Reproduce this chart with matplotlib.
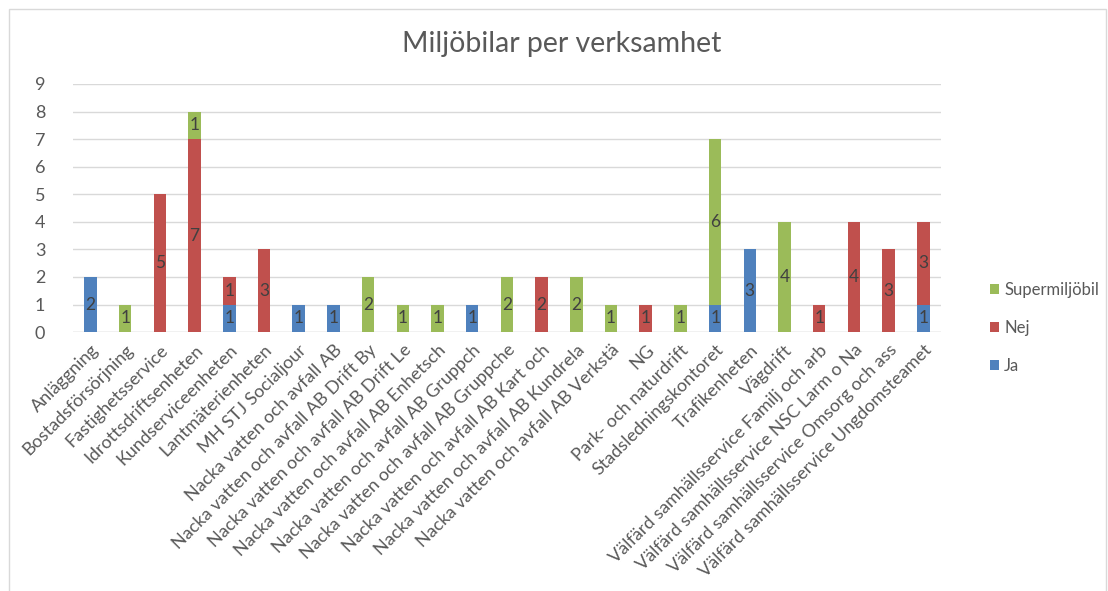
import numpy as np
import matplotlib
import matplotlib.pyplot as plt

plt.switch_backend('agg')
plt.rcParams['font.family'] = ['Lato', 'DejaVu Sans']

categories = [
    "Anläggning", "Bostadsförsörjning", "Fastighetsservice", "Idrottsdriftsenheten",
    "Kundserviceenheten", "Lantmäterienheten", "MH STJ Socialjour",
    "Nacka vatten och avfall AB", "Nacka vatten och avfall AB Drift By",
    "Nacka vatten och avfall AB Drift Le", "Nacka vatten och avfall AB Enhetsch",
    "Nacka vatten och avfall AB Gruppch", "Nacka vatten och avfall AB Gruppche",
    "Nacka vatten och avfall AB Kart och", "Nacka vatten och avfall AB Kundrela",
    "Nacka vatten och avfall AB Verkstä", "NG", "Park- och naturdrift",
    "Stadsledningskontoret", "Trafikenheten", "Vägdrift",
    "Välfärd samhällsservice Familj och arb", "Välfärd samhällsservice NSC Larm o Na",
    "Välfärd samhällsservice Omsorg och ass", "Välfärd samhällsservice Ungdomsteamet",
]
ja = [2, 0, 0, 0, 1, 0, 1, 1, 0, 0, 0, 1, 0, 0, 0, 0, 0, 0, 1, 3, 0, 0, 0, 0, 1]
nej = [0, 0, 5, 7, 1, 3, 0, 0, 0, 0, 0, 0, 0, 2, 0, 0, 1, 0, 0, 0, 0, 1, 4, 3, 3]
super_ = [0, 1, 0, 1, 0, 0, 0, 0, 2, 1, 1, 0, 2, 0, 2, 1, 0, 1, 6, 0, 4, 0, 0, 0, 0]

series = [("Ja", ja, "#4F81BD"), ("Nej", nej, "#C0504D"), ("Supermiljöbil", super_, "#9BBB59")]

fig = plt.figure(figsize=(11.08, 5.91), dpi=100)
# thin frame round the whole chart
fig.patches.append(matplotlib.patches.Rectangle((0.008, -0.01), 0.99, 0.995, transform=fig.transFigure,
                                                fill=False, edgecolor='#D9D9D9', lw=1))
ax = fig.add_axes([0.066, 0.438, 0.783, 0.42])

x = np.arange(len(categories))
bottom = np.zeros(len(categories))
handles = []
for name, vals, color in series:
    vals = np.array(vals, dtype=float)
    bars = ax.bar(x, vals, 0.36, bottom=bottom, color=color, label=name, zorder=3)
    for xi, v, b in zip(x, vals, bottom):
        if v > 0:
            ax.text(xi, b + v / 2, '%d' % v, ha='center', va='center', fontsize=12.5,
                    color='#404040', zorder=4)
    bottom += vals
    handles.append(bars)

ax.set_xlim(-0.5, len(categories) - 0.5)
ax.set_ylim(0, 9)
ax.set_yticks(range(10))
ax.yaxis.grid(True, color='#D9D9D9', lw=1, zorder=0)
for s in ax.spines.values():
    s.set_visible(False)
ax.axhline(0, color='#D9D9D9', lw=1, zorder=2)
ax.tick_params(axis='both', length=0, colors='#595959', labelsize=13)
ax.tick_params(axis='y', pad=20)
ax.tick_params(axis='x', pad=7)
ax.set_xticks(x)
ax.set_xticklabels(categories, rotation=45, ha='right', rotation_mode='anchor', fontsize=13)

fig.text(0.507, 0.926, "Miljöbilar per verksamhet", ha='center', va='center',
         fontsize=20.5, color='#595959')

leg = fig.legend(handles[::-1], [s[0] for s in series][::-1], loc='center left',
                 bbox_to_anchor=(0.88, 0.445), frameon=False, fontsize=12,
                 handlelength=0.55, handleheight=0.55, handletextpad=0.3, labelspacing=1.3)
for t in leg.get_texts():
    t.set_color('#595959')

plt.savefig('out.png', dpi=100)
